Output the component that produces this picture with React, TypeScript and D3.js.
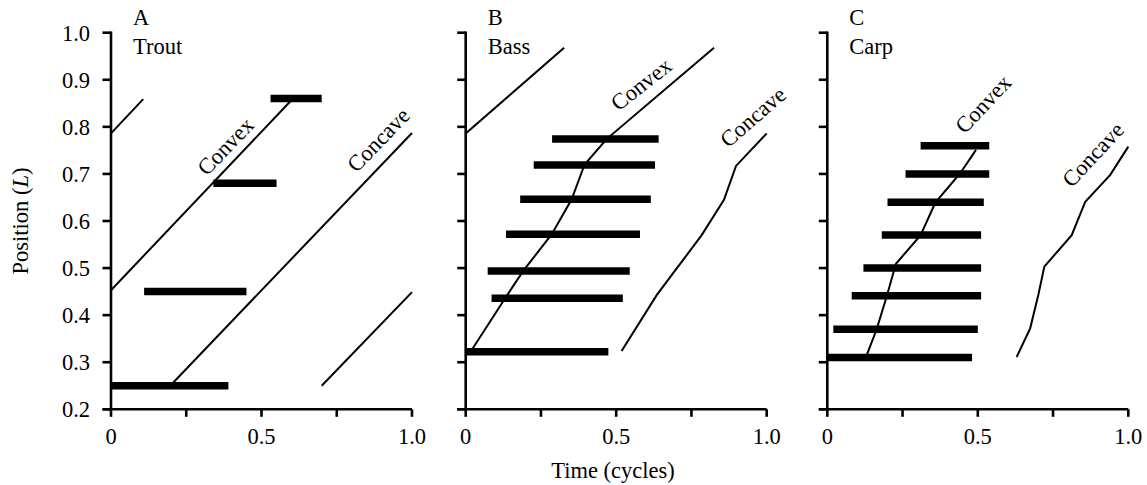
import * as d3 from 'd3'

// tick values shared by the three panels
const yTicks = [0.2, 0.3, 0.4, 0.5, 0.6, 0.7, 0.8, 0.9, 1.0]
const xTicks = [0, 0.25, 0.5, 0.75, 1.0]
const xTickLabels = ['0', '', '0.5', '', '1.0']

// A - Trout
const troutBars = [
  { y: 0.25, x0: 0, x1: 0.39 },
  { y: 0.45, x0: 0.11, x1: 0.45 },
  { y: 0.68, x0: 0.34, x1: 0.55 },
  { y: 0.86, x0: 0.53, x1: 0.7 },
]
const troutConvex: [number, number][] = [[0, 0.453], [0.6, 0.857]]
const troutConcave: [number, number][] = [[0.207, 0.257], [1.0, 0.787]]
const troutWrap: [number, number][][] = [
  [[0, 0.786], [0.107, 0.859]],
  [[0.7, 0.25], [1.0, 0.449]],
]

// B - Bass
const bassBars = [
  { y: 0.322, x0: 0, x1: 0.474 },
  { y: 0.436, x0: 0.086, x1: 0.522 },
  { y: 0.494, x0: 0.073, x1: 0.545 },
  { y: 0.572, x0: 0.134, x1: 0.579 },
  { y: 0.646, x0: 0.181, x1: 0.615 },
  { y: 0.719, x0: 0.226, x1: 0.629 },
  { y: 0.774, x0: 0.287, x1: 0.641 },
]
const bassConvex: [number, number][] = [
  [0.02, 0.326], [0.131, 0.436], [0.191, 0.494], [0.286, 0.572],
  [0.352, 0.646], [0.395, 0.72], [0.468, 0.774], [0.825, 0.968],
]
const bassConcave: [number, number][] = [
  [0.518, 0.324], [0.635, 0.443], [0.784, 0.57], [0.858, 0.645],
  [0.898, 0.717], [1.0, 0.786],
]
const bassWrap: [number, number][][] = [[[0, 0.786], [0.327, 0.968]]]

// C - Carp
const carpBars = [
  { y: 0.31, x0: 0, x1: 0.481 },
  { y: 0.37, x0: 0.02, x1: 0.5 },
  { y: 0.441, x0: 0.081, x1: 0.511 },
  { y: 0.5, x0: 0.12, x1: 0.511 },
  { y: 0.57, x0: 0.181, x1: 0.511 },
  { y: 0.64, x0: 0.2, x1: 0.52 },
  { y: 0.7, x0: 0.26, x1: 0.538 },
  { y: 0.76, x0: 0.31, x1: 0.538 },
]
const carpConvex: [number, number][] = [
  [0.131, 0.315], [0.164, 0.37], [0.197, 0.439], [0.228, 0.509],
  [0.31, 0.57], [0.359, 0.639], [0.441, 0.701], [0.494, 0.751],
]
const carpConcave: [number, number][] = [
  [0.629, 0.311], [0.674, 0.372], [0.701, 0.443], [0.721, 0.503],
  [0.812, 0.57], [0.857, 0.641], [0.94, 0.698], [1.0, 0.758],
]

const panels = [
  {
    letter: 'A', name: 'Trout', left: 111, ticksLabelled: true,
    bars: troutBars, lines: [troutConvex, troutConcave, ...troutWrap],
    notes: [
      { text: 'Convex', x: 0.318, y: 0.694, angle: -46 },
      { text: 'Concave', x: 0.816, y: 0.701, angle: -46 },
    ],
  },
  {
    letter: 'B', name: 'Bass', left: 465.7, ticksLabelled: false,
    bars: bassBars, lines: [bassConvex, bassConcave, ...bassWrap],
    notes: [
      { text: 'Convex', x: 0.507, y: 0.832, angle: -38 },
      { text: 'Concave', x: 0.872, y: 0.754, angle: -41 },
    ],
  },
  {
    letter: 'C', name: 'Carp', left: 827.3, ticksLabelled: false,
    bars: carpBars, lines: [carpConvex, carpConcave],
    notes: [
      { text: 'Convex', x: 0.457, y: 0.783, angle: -47 },
      { text: 'Concave', x: 0.812, y: 0.669, angle: -47 },
    ],
  },
]

const W = 1147
const H = 485
const top = 32.7
const bottom = 409.3
const pw = 301
const font = '"Liberation Serif", "Times New Roman", serif'
const fs = 22.5

function Panel({ p }: { p: (typeof panels)[number] }) {
  const x = d3.scaleLinear().domain([0, 1]).range([p.left, p.left + pw])
  const y = d3.scaleLinear().domain([0.2, 1.0]).range([bottom, top])
  const line = d3.line<[number, number]>().x(d => x(d[0])).y(d => y(d[1]))

  return (
    <g>
      {p.bars.map((b, i) => (
        <line key={'b' + i} x1={x(b.x0)} x2={x(b.x1)} y1={y(b.y)} y2={y(b.y)}
          stroke="#000" strokeWidth={7.5} />
      ))}
      {p.lines.map((l, i) => (
        <path key={'l' + i} d={line(l) ?? ''} fill="none" stroke="#000" strokeWidth={2} />
      ))}
      {/* axes */}
      <line x1={x(0)} x2={x(0)} y1={y(1.0) - 1.3} y2={y(0.2) + 1.3} stroke="#000" strokeWidth={2.6} />
      <line x1={x(0) - 8.5} x2={x(1)} y1={y(0.2)} y2={y(0.2)} stroke="#000" strokeWidth={2.6} />
      {yTicks.map(t => (
        <line key={'yt' + t} x1={x(0) - 8.5} x2={x(0)} y1={y(t)} y2={y(t)} stroke="#000" strokeWidth={2.6} />
      ))}
      {xTicks.map(t => (
        <line key={'xt' + t} x1={x(t)} x2={x(t)} y1={y(0.2)} y2={y(0.2) + 7.5} stroke="#000" strokeWidth={2.6} />
      ))}
      {p.ticksLabelled && yTicks.map(t => (
        <text key={'yl' + t} x={x(0) - 21} y={y(t)} dy="0.35em" textAnchor="end"
          fontFamily={font} fontSize={fs}>{t.toFixed(1)}</text>
      ))}
      {xTicks.map((t, i) => xTickLabels[i] && (
        <text key={'xl' + t} x={x(t)} y={444} textAnchor="middle"
          fontFamily={font} fontSize={fs}>{xTickLabels[i]}</text>
      ))}
      <text x={p.left + 22} y={25} fontFamily={font} fontSize={fs}>{p.letter}</text>
      <text x={p.left + 22} y={54} fontFamily={font} fontSize={fs}>{p.name}</text>
      {p.notes.map(n => (
        <text key={n.text} transform={`translate(${x(n.x)},${y(n.y)}) rotate(${n.angle})`}
          fontFamily={font} fontSize={fs}>{n.text}</text>
      ))}
    </g>
  )
}

export default function App() {
  return (
    <svg width={W} height={H} style={{ position: 'absolute', left: 0, top: 0, background: '#fff' }}>
      {panels.map(p => <Panel key={p.letter} p={p} />)}
      <text transform={`translate(28,${(top + bottom) / 2}) rotate(-90)`} textAnchor="middle"
        fontFamily={font} fontSize={fs}>
        Position (<tspan fontStyle="italic">L</tspan>)
      </text>
      <text x={613} y={478} textAnchor="middle" fontFamily={font} fontSize={fs}>Time (cycles)</text>
    </svg>
  )
}
